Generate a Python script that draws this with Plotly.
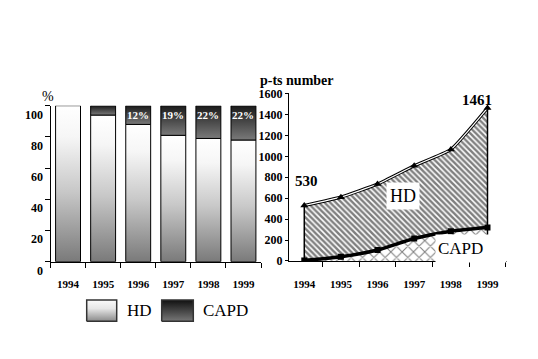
import plotly.graph_objects as go

# ---------------- data ----------------
years = ['1994', '1995', '1996', '1997', '1998', '1999']
hd_pct = [100, 94, 88, 81, 79, 78]
capd_pct = [0, 6, 12, 19, 21, 22]
capd_labels = ['', '', '12%', '19%', '22%', '22%']
total_pts = [530, 610, 735, 910, 1065, 1461]
capd_pts = [5, 40, 105, 215, 285, 320]
left_yticks = [0, 20, 40, 60, 80, 100]
right_yticks = list(range(0, 1601, 200))
series_names = ['HD', 'CAPD']

W, H = 538, 359
SERIF = '"Liberation Serif", "Times New Roman", "DejaVu Serif", serif'


def px_x(p):
    return p / W


def px_y(p):
    return (H - p) / H


fig = go.Figure()

# ---------------- left chart: stacked percentage bars ----------------
bw = 0.355
hd_scale = [[0, '#7a7a7a'], [0.45, '#c8c8c8'], [0.8, '#f6f6f6'], [1, '#ffffff']]
capd_scale = [[0, '#7a7a7a'], [1, '#1a1a1a']]
idx = list(range(len(years)))
for i, h, c in zip(idx, hd_pct, capd_pct):
    fig.add_trace(go.Scatter(
        x=[i - bw, i + bw, i + bw, i - bw, i - bw], y=[0, 0, h, h, 0],
        fill='toself', fillgradient=dict(type='vertical', colorscale=hd_scale),
        mode='lines', line=dict(color='black', width=1),
        xaxis='x', yaxis='y', showlegend=False, hoverinfo='skip'))
    if c > 0:
        fig.add_trace(go.Scatter(
            x=[i - bw, i + bw, i + bw, i - bw, i - bw], y=[h, h, h + c, h + c, h],
            fill='toself', fillgradient=dict(type='vertical', colorscale=capd_scale),
            mode='lines', line=dict(color='black', width=1),
            xaxis='x', yaxis='y', showlegend=False, hoverinfo='skip'))

# ---------------- right chart: patient numbers ----------------
fig.add_trace(go.Scatter(
    x=years, y=capd_pts, fill='tozeroy', mode='lines',
    line=dict(width=0, shape='spline', smoothing=0.6),
    fillcolor='white',
    fillpattern=dict(shape='x', size=8, solidity=0.25, fgcolor='black', bgcolor='white'),
    xaxis='x2', yaxis='y2', showlegend=False, hoverinfo='skip'))
fig.add_trace(go.Scatter(
    x=years, y=total_pts, fill='tonexty', mode='lines',
    line=dict(width=0, shape='spline', smoothing=0.4),
    fillcolor='white',
    fillpattern=dict(shape='\\', size=4, solidity=0.62, fgcolor='black', bgcolor='white'),
    xaxis='x2', yaxis='y2', showlegend=False, hoverinfo='skip'))
# vertical edges
fig.add_trace(go.Scatter(x=[years[0], years[0]], y=[capd_pts[0], total_pts[0]], mode='lines',
                         line=dict(color='black', width=1.5), xaxis='x2', yaxis='y2',
                         showlegend=False, hoverinfo='skip'))
fig.add_trace(go.Scatter(x=[years[-1], years[-1]], y=[0, total_pts[-1]], mode='lines',
                         line=dict(color='black', width=1.5), xaxis='x2', yaxis='y2',
                         showlegend=False, hoverinfo='skip'))
# total line (double thin line look)
fig.add_trace(go.Scatter(x=years, y=total_pts, mode='lines',
                         line=dict(color='black', width=3.2, shape='spline', smoothing=0.4),
                         xaxis='x2', yaxis='y2', showlegend=False, hoverinfo='skip'))
fig.add_trace(go.Scatter(x=years, y=total_pts, mode='lines+markers',
                         line=dict(color='white', width=1.2, shape='spline', smoothing=0.4),
                         marker=dict(symbol='triangle-up', size=7, color='black'),
                         xaxis='x2', yaxis='y2', showlegend=False, hoverinfo='skip'))
# CAPD line
fig.add_trace(go.Scatter(x=years, y=capd_pts, mode='lines+markers',
                         line=dict(color='black', width=3.5, shape='spline', smoothing=0.6),
                         marker=dict(symbol='square', size=6, color='black'),
                         xaxis='x2', yaxis='y2', showlegend=False, hoverinfo='skip'))

# ---------------- legend swatches ----------------
leg_scales = [[[0, '#8a8a8a'], [0.6, '#e6e6e6'], [1, '#fafafa']],
              [[0, '#777777'], [1, '#111111']]]
leg_x = [(86.7, 116.7), (161.7, 193.3)]
for (x0, x1), sc in zip(leg_x, leg_scales):
    fig.add_trace(go.Scatter(
        x=[x0, x1, x1, x0, x0], y=[H - 327, H - 327, H - 305, H - 305, H - 327],
        fill='toself', fillgradient=dict(type='vertical', colorscale=sc),
        mode='lines', line=dict(color='#333333', width=1.5),
        xaxis='x3', yaxis='y3', showlegend=False, hoverinfo='skip'))

axis_common = dict(showgrid=False, zeroline=False, showline=True, linecolor='black',
                   linewidth=1, ticks='outside', tickcolor='black', fixedrange=True)


def ann(**kw):
    d = dict(showarrow=False, xanchor='center', yanchor='middle')
    d.update(kw)
    return d


annotations = []
# left y tick labels (offset below tick marks as in the reference)
for v in left_yticks:
    annotations.append(ann(x=px_x(45), xref='paper', y=v, yref='y', text=str(v),
                           xanchor='right', yshift=-9,
                           font=dict(family=SERIF, size=12, color='black', weight='bold')))
# CAPD percentage labels
for i, h, c, t in zip(idx, hd_pct, capd_pct, capd_labels):
    if t:
        annotations.append(ann(x=i, xref='x', y=94, yref='y', text=t,
                               font=dict(family=SERIF, size=11, color='white', weight='bold')))
annotations += [
    ann(x=px_x(48), y=px_y(93), xref='paper', yref='paper', text='%',
        font=dict(family=SERIF, size=14, color='black')),
    ann(x=px_x(297), y=px_y(76), xref='paper', yref='paper', text='p-ts number',
        font=dict(family=SERIF, size=14, color='black', weight='bold')),
    ann(x=2.69, y=619, xref='x2', yref='y2', text=series_names[0],
        bgcolor='white', borderpad=3,
        font=dict(family=SERIF, size=18, color='black')),
    ann(x=4.55, y=122, xref='x2', yref='y2', text=series_names[1],
        bgcolor='white', width=66, height=23, align='left', borderpad=2,
        font=dict(family=SERIF, size=17, color='black')),
    ann(x=0.05, y=766, xref='x2', yref='y2', text=str(total_pts[0]),
        font=dict(family=SERIF, size=15, color='black', weight='bold')),
    ann(x=4.72, y=1540, xref='x2', yref='y2', text=str(total_pts[-1]),
        font=dict(family=SERIF, size=15, color='black', weight='bold')),
    ann(x=px_x(139), y=px_y(316), xref='paper', yref='paper', text=series_names[0],
        font=dict(family=SERIF, size=17, color='black')),
    ann(x=px_x(225.5), y=px_y(316), xref='paper', yref='paper', text=series_names[1],
        font=dict(family=SERIF, size=17, color='black')),
]

fig.update_layout(
    width=W, height=H, margin=dict(l=0, r=0, t=0, b=0),
    paper_bgcolor='white', plot_bgcolor='white', showlegend=False,
    font=dict(family=SERIF, color='black'),
    xaxis=dict(domain=[px_x(50.5), px_x(261)], anchor='y', range=[-0.5, 5.5],
               tickvals=idx, ticktext=years, ticks='', ticklabelstandoff=12,
               tickfont=dict(family=SERIF, size=11, weight='bold'),
               minor=dict(tickvals=[i - 0.5 for i in range(len(years) + 1)], ticks='outside',
                          ticklen=5, tickcolor='black'),
               showgrid=False, zeroline=False, showline=True, linecolor='black', fixedrange=True),
    yaxis=dict(axis_common, domain=[px_y(265), px_y(102.7)], anchor='x', range=[0, 100],
               tickvals=left_yticks, showticklabels=False, ticklen=5),
    xaxis2=dict(axis_common, domain=[px_x(289), px_x(507)], anchor='y2', type='category',
                tickson='boundaries', ticklen=5, ticklabelstandoff=13,
                tickfont=dict(family=SERIF, size=11, weight='bold')),
    yaxis2=dict(axis_common, domain=[px_y(264.3), px_y(90)], anchor='x2', range=[0, 1600],
                tickvals=right_yticks, ticklen=3,
                tickfont=dict(family=SERIF, size=12, weight='bold')),
    xaxis3=dict(domain=[px_x(80), px_x(200)], anchor='y3', range=[80, 200], visible=False,
                fixedrange=True),
    yaxis3=dict(domain=[px_y(332), px_y(300)], anchor='x3', range=[H - 332, H - 300],
                visible=False, fixedrange=True),
    annotations=annotations,
)

fig.write_html('out.html', config={'displayModeBar': False},
               post_script="document.body.style.margin='0';document.body.style.overflow='hidden';")
